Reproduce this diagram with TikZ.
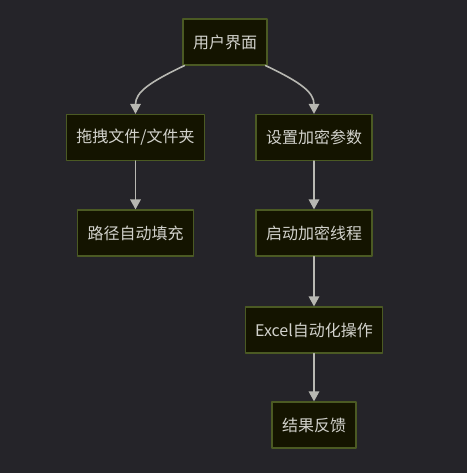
\documentclass[tikz,border=0pt]{standalone}
\usepackage{fontspec}
\setmainfont{Noto Sans CJK SC}
\usetikzlibrary{arrows.meta}

\begin{document}
\begin{tikzpicture}[x=1pt,y=-1pt,line cap=round,line join=round,
  >={Triangle[length=10pt,width=10.5pt]},font=\fontsize{16}{18}\selectfont]
  \definecolor{bg}{HTML}{252429}
  \definecolor{boxfill}{HTML}{141400}
  \definecolor{boxline}{HTML}{4B5A23}
  \definecolor{flowc}{HTML}{B8B8B2}
  \definecolor{txt}{HTML}{D2D2CC}
  \tikzset{
    stepbox/.style={draw=boxline,fill=boxfill,line width=1.2pt,text=txt,
      minimum height=46pt,inner xsep=10pt},
    flow/.style={->,draw=flowc,line width=1.6pt}
  }

  \fill[bg] (0,0) rectangle (467,473);
  \useasboundingbox (0,0) rectangle (467,473);

  % top node and the two branches
  \node[stepbox] (ui) at (225,42) {用户界面};
  \node[stepbox] (drag) at (135.5,137.5) {拖拽文件/文件夹};
  \node[stepbox] (param) at (314,137.5) {设置加密参数};

  % left branch
  \node[stepbox] (path) at (135.5,233) {路径自动填充};

  % right branch
  \node[stepbox] (thread) at (314,233) {启动加密线程};
  \node[stepbox] (excel) at (314,330) {Excel自动化操作};
  \node[stepbox] (result) at (314,425) {结果反馈};

  % connectors
  \draw[flow] ([xshift=2pt]ui.south west) .. controls (150,82) and (135.5,92) .. (drag.north);
  \draw[flow] ([xshift=-2pt]ui.south east) .. controls (300,82) and (314,92) .. (param.north);
  \draw[flow] (drag) -- (path);
  \draw[flow] (param) -- (thread);
  \draw[flow] (thread) -- (excel);
  \draw[flow] (excel) -- (result);
\end{tikzpicture}
\end{document}
